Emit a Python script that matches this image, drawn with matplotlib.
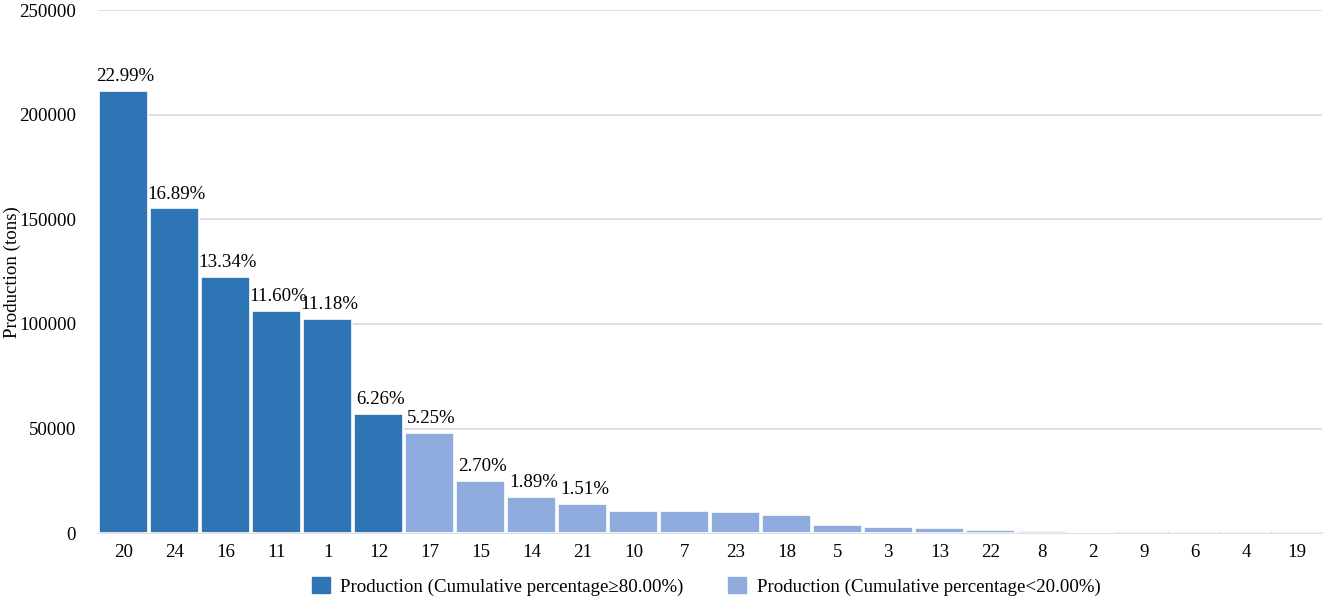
import matplotlib
matplotlib.use("Agg")
import matplotlib.pyplot as plt
from matplotlib.patches import Patch

plt.rcParams['font.family'] = ['Liberation Serif', 'DejaVu Serif']

categories = ['20', '24', '16', '11', '1', '12', '17', '15', '14', '21', '10', '7',
              '23', '18', '5', '3', '13', '22', '8', '2', '9', '6', '4', '19']
production = [211300, 155200, 122600, 106300, 102400, 57100, 47900, 24800, 17370, 13880,
              10700, 10400, 9900, 8500, 4000, 3100, 2250, 1300, 800, 500, 150, 80, 40, 20]
pct_labels = ['22.99%', '16.89%', '13.34%', '11.60%', '11.18%', '6.26%', '5.25%',
              '2.70%', '1.89%', '1.51%']
n_major = 6
yticks = [0, 50000, 100000, 150000, 200000, 250000]
legend_labels = ['Production (Cumulative percentage\u226580.00%)',
                 'Production (Cumulative percentage<20.00%)']

dark = '#2E75B6'
light = '#8FAADC'
FS = 13.6

fig = plt.figure(figsize=(13.25, 5.99), dpi=100)
ax = fig.add_axes([0.0743, 0.110, 0.9237, 0.873])

x = list(range(len(categories)))
colors = [dark if i < n_major else light for i in x]
ax.bar(x, production, width=0.96, color=colors, edgecolor='white', linewidth=1.2, zorder=3)

for i, lab in enumerate(pct_labels):
    ax.text(x[i] + 0.03, production[i] + 2800, lab, ha='center', va='bottom', fontsize=FS, zorder=4)

ax.set_xlim(-0.5, len(categories) - 0.5)
ax.set_ylim(0, 250000)
ax.set_yticks(yticks)
ax.set_yticklabels([str(v) for v in yticks], fontsize=FS)
ax.set_xticks(x)
ax.set_xticklabels(categories, fontsize=FS)
ax.yaxis.grid(True, color='#d9d9d9', linewidth=1.2, zorder=0)
for s in ['top', 'right', 'left']:
    ax.spines[s].set_visible(False)
ax.spines['bottom'].set_color('#d9d9d9')
ax.spines['bottom'].set_linewidth(1.2)
ax.tick_params(axis='x', length=0, pad=8)
ax.tick_params(axis='y', length=0, pad=16)
ax.set_ylabel('Production (tons)', fontsize=FS)
ax.yaxis.set_label_coords(-0.0635, 0.5)

handles = [Patch(facecolor=dark, edgecolor=dark), Patch(facecolor=light, edgecolor=light)]
fig.legend(handles, legend_labels, loc='center', bbox_to_anchor=(0.533, 0.021), ncol=2,
           frameon=False, fontsize=FS, handlelength=0.95, handleheight=0.95,
           columnspacing=2.35, handletextpad=0.55, borderpad=0)

fig.savefig('out.png', dpi=100)
